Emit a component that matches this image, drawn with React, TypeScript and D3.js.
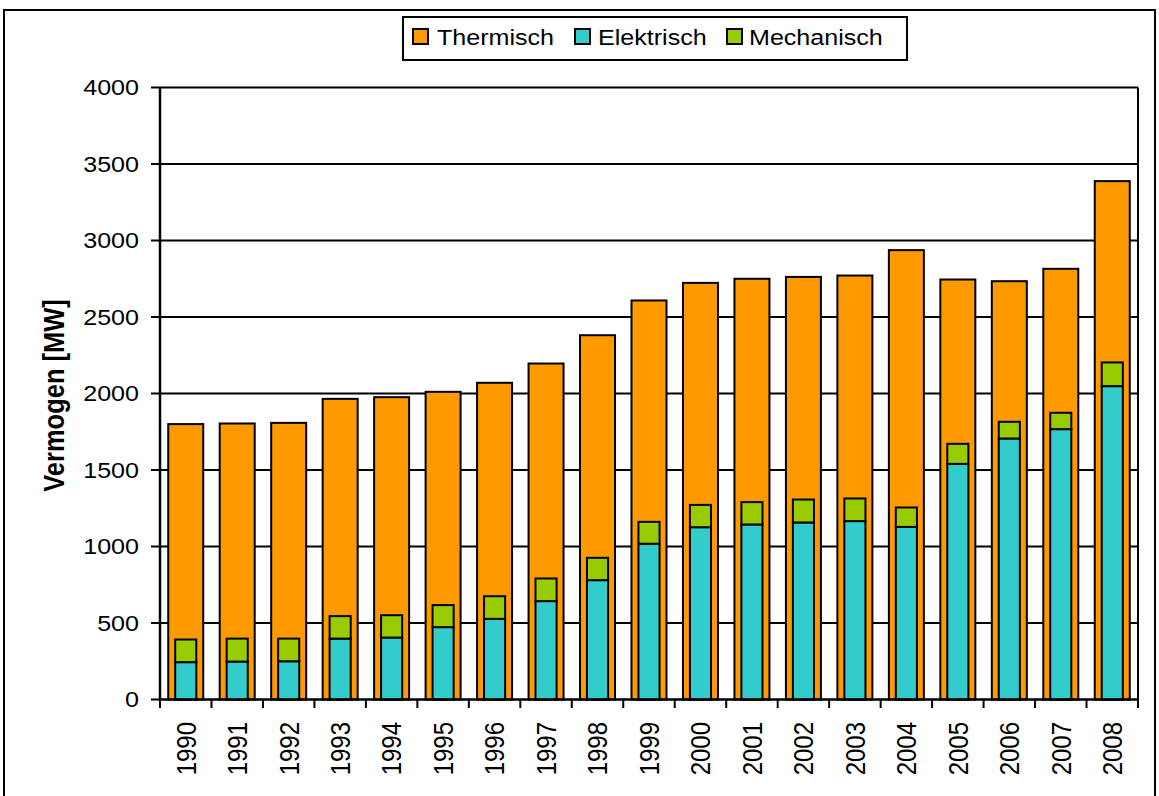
import React from 'react';
import * as d3 from 'd3';

// values (MW)
const years = ['1990', '1991', '1992', '1993', '1994', '1995', '1996', '1997', '1998', '1999',
  '2000', '2001', '2002', '2003', '2004', '2005', '2006', '2007', '2008'];
const thermisch = [1800, 1804, 1808, 1965, 1976, 2011, 2070, 2196, 2381, 2608,
  2723, 2750, 2762, 2771, 2937, 2745, 2734, 2815, 3388];
const elektrisch = [244, 248, 250, 398, 405, 473, 527, 643, 780, 1018,
  1126, 1144, 1157, 1166, 1128, 1540, 1706, 1767, 2048];
const mechanisch = [148, 150, 148, 147, 146, 144, 148, 148, 146, 143,
  146, 146, 150, 148, 127, 131, 109, 107, 155];
const yTicks = [0, 500, 1000, 1500, 2000, 2500, 3000, 3500, 4000];
const seriesNames = ['Thermisch', 'Elektrisch', 'Mechanisch'];
const seriesColors = ['#FF9900', '#33CCCC', '#99CC00'];

const W = 1159;
const H = 796;
const font = '"Liberation Sans", Arial, sans-serif';
const sx = 1.14; // the original is stretched a bit horizontally

export default function App() {
  const x = d3.scaleBand().domain(years).range([160, 1138]);
  const y = d3.scaleLinear().domain([0, 4000]).range([699.5, 87.5]);
  const bw = x.bandwidth();
  const outerW = bw * 0.68;
  const innerW = bw * 0.41;

  const rows = years.map((yr, i) => ({ year: yr, Elektrisch: elektrisch[i], Mechanisch: mechanisch[i] }));
  const stacked = d3.stack<any>().keys(['Elektrisch', 'Mechanisch'])(rows);

  const boundaries = d3.range(years.length + 1).map(i => 160 + i * bw);

  // legend layout
  const legendItems = [
    { sq: 413, tx: 437 },
    { sq: 575, tx: 598 },
    { sq: 727, tx: 749 },
  ];

  return (
    <svg width={W} height={H} style={{ position: 'absolute', left: 0, top: 0, background: '#fff' }}>
      <rect x={4} y={10} width={1151} height={820} fill="#fff" stroke="#000" strokeWidth={2} />

      {/* gridlines */}
      {yTicks.filter(t => t > 0).map(t => (
        <line key={t} x1={160} x2={1138} y1={y(t)} y2={y(t)} stroke="#000" strokeWidth={2} />
      ))}

      {/* thermisch bars */}
      {years.map((yr, i) => (
        <rect key={yr}
          x={(x(yr) as number) + (bw - outerW) / 2}
          y={y(thermisch[i])}
          width={outerW}
          height={y(0) - y(thermisch[i])}
          fill={seriesColors[0]} stroke="#000" strokeWidth={2} />
      ))}

      {/* elektrisch + mechanisch stacked, narrower, in front */}
      {stacked.map((s, si) => (
        <g key={s.key}>
          {s.map((d, i) => (
            <rect key={years[i]}
              x={(x(years[i]) as number) + (bw - innerW) / 2}
              y={y(d[1])}
              width={innerW}
              height={y(d[0]) - y(d[1])}
              fill={seriesColors[si + 1]} stroke="#000" strokeWidth={2} />
          ))}
        </g>
      ))}

      {/* plot border on the right */}
      <line x1={1138} x2={1138} y1={87.5} y2={699.5} stroke="#000" strokeWidth={2} />

      {/* y axis */}
      <line x1={160} x2={160} y1={87.5} y2={700.5} stroke="#000" strokeWidth={2.5} />
      {yTicks.map(t => (
        <g key={t}>
          <line x1={151} x2={160} y1={y(t)} y2={y(t)} stroke="#000" strokeWidth={2} />
          <text transform={`translate(139,${y(t)}) scale(${sx},1)`} textAnchor="end" dy="0.36em"
            fontFamily={font} fontSize={22} fill="#000">{t}</text>
        </g>
      ))}
      <text transform={`translate(54,${(y(0) + y(4000)) / 2 + 2}) scale(${sx},1) rotate(-90)`}
        textAnchor="middle" dy="0.36em" fontFamily={font} fontSize={25.5} fontWeight="bold" fill="#000">
        Vermogen [MW]
      </text>

      {/* x axis */}
      <line x1={159} x2={1139} y1={699.5} y2={699.5} stroke="#000" strokeWidth={2.5} />
      {boundaries.map((bx, i) => (
        <line key={i} x1={bx} x2={bx} y1={699.5} y2={708} stroke="#000" strokeWidth={2} />
      ))}
      {years.map(yr => (
        <text key={yr}
          transform={`translate(${(x(yr) as number) + bw / 2},722) scale(${sx},1) rotate(-90)`}
          textAnchor="end" dy="0.36em" fontFamily={font} fontSize={24} fill="#000">{yr}</text>
      ))}

      {/* legend */}
      <rect x={403} y={17} width={504} height={43} fill="#fff" stroke="#000" strokeWidth={2} />
      {seriesNames.map((name, i) => (
        <g key={name}>
          <rect x={legendItems[i].sq} y={29} width={15} height={15}
            fill={seriesColors[i]} stroke="#000" strokeWidth={2} />
          <text transform={`translate(${legendItems[i].tx},44.5) scale(${sx},1)`}
            fontFamily={font} fontSize={22} fill="#000">{name}</text>
        </g>
      ))}
    </svg>
  );
}
